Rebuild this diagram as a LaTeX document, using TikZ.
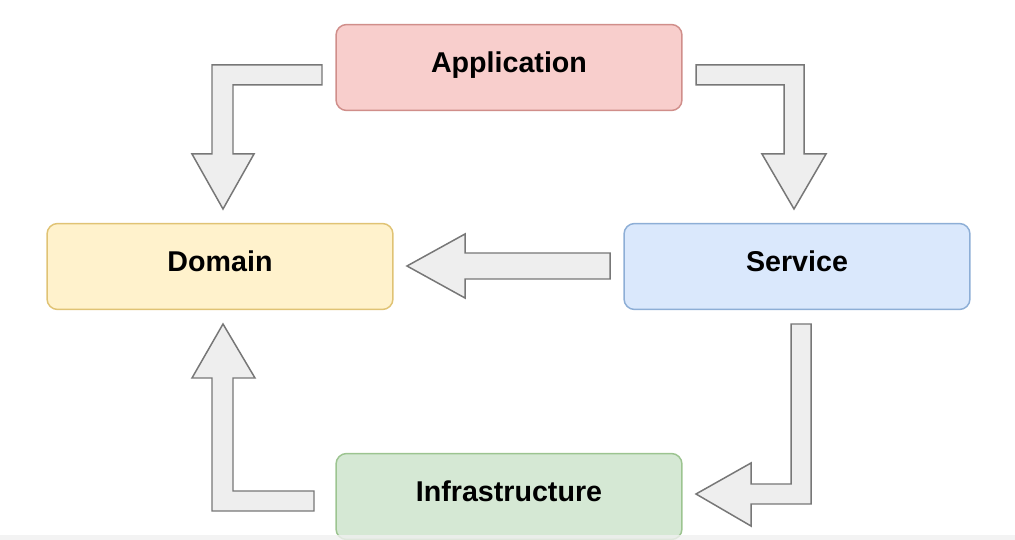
\documentclass[tikz,border=0pt]{standalone}
\usepackage{fontspec}
\setmainfont{Liberation Sans}
\usepackage{tikz}
\usetikzlibrary{positioning}

\definecolor{appfill}{HTML}{F8CECC}
\definecolor{appline}{HTML}{D08E8A}
\definecolor{domfill}{HTML}{FFF2CC}
\definecolor{domline}{HTML}{E0C374}
\definecolor{srvfill}{HTML}{DAE8FC}
\definecolor{srvline}{HTML}{8DAED6}
\definecolor{inffill}{HTML}{D5E8D4}
\definecolor{infline}{HTML}{9CC490}
\definecolor{arrfill}{HTML}{EEEEEE}
\definecolor{arrline}{HTML}{777777}

\begin{document}
\begin{tikzpicture}[
        x=0.02cm, y=-0.02cm, % one unit = one pixel of the layout
        layer/.style={rectangle, draw, line width=0.85pt, rounded corners=6pt,
            minimum width=6.92cm, minimum height=1.72cm, text height=0.8em, text depth=0.2em,
            font=\fontsize{16.3}{19}\selectfont\bfseries, text centered},
        blockarrow/.style={draw=arrline, fill=arrfill, line width=0.85pt, line join=miter}
    ]
    \useasboundingbox (0,0) rectangle (1015,540);
    \clip (0,0) rectangle (1015,540);

    % Layers
    \node[layer, fill=appfill, draw=appline] (app) at (509,67.5) {Application};
    \node[layer, fill=domfill, draw=domline] (dom) at (220,266.5) {Domain};
    \node[layer, fill=srvfill, draw=srvline] (srv) at (797,266.5) {Service};
    \node[layer, fill=inffill, draw=infline] (inf) at (509,496.5) {Infrastructure};

    % Application -> Domain
    \draw[blockarrow] (322,65) -- (212,65) -- (212,154) -- (192,154) -- (223,209)
        -- (254,154) -- (233,154) -- (233,85) -- (322,85) -- cycle;
    % Application -> Service
    \draw[blockarrow] (696,65) -- (804,65) -- (804,154) -- (826,154) -- (794,209)
        -- (762,154) -- (784,154) -- (784,85) -- (696,85) -- cycle;
    % Service -> Domain
    \draw[blockarrow] (610,253) -- (465,253) -- (465,234) -- (407,266)
        -- (465,298) -- (465,279) -- (610,279) -- cycle;
    % Service -> Infrastructure
    \draw[blockarrow] (791,324) -- (811,324) -- (811,504) -- (751,504) -- (751,526)
        -- (696,494) -- (751,463) -- (751,484) -- (791,484) -- cycle;
    % Infrastructure -> Domain
    \draw[blockarrow] (314,511) -- (212,511) -- (212,378) -- (192,378) -- (223,324)
        -- (255,378) -- (233,378) -- (233,491) -- (314,491) -- cycle;

    % faint strip along the bottom edge
    \fill[white!94!black, opacity=0.8] (0,535) rectangle (1015,540);
\end{tikzpicture}
\end{document}
